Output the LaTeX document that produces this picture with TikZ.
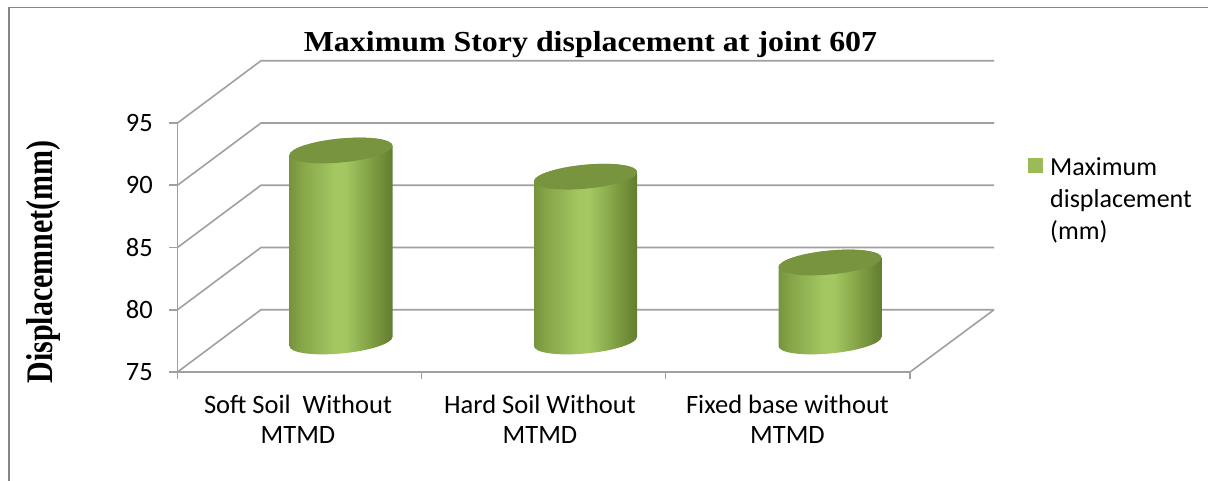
\documentclass[tikz,border=0pt]{standalone}
\usepackage{fontspec}
\setmainfont{Liberation Serif}
\newfontfamily\calfont{Carlito}
\definecolor{gridgray}{RGB}{160,160,160}
\definecolor{framegray}{RGB}{134,134,134}
\definecolor{cyldark}{RGB}{98,125,48}
\definecolor{cylmid}{RGB}{118,148,60}
\definecolor{cyllight}{RGB}{164,199,97}
\definecolor{cyltop}{RGB}{120,148,62}
\definecolor{keygreen}{RGB}{155,187,89}
\pgfdeclarehorizontalshading{cylshade}{100bp}{color(0bp)=(cylmid); color(25bp)=(cylmid); color(30bp)=(cylmid!70!cyllight); color(47bp)=(cyllight); color(52bp)=(cyllight); color(68bp)=(cylmid); color(75bp)=(cyldark); color(100bp)=(cyldark)}
\usetikzlibrary{positioning}

\begin{document}
\begin{tikzpicture}[x=1pt, y=1pt,
  gridln/.style={gridgray, line width=1.6pt},
  lab/.style={font=\calfont\fontsize{26.5}{30}\selectfont, inner sep=0pt, align=center}]
\useasboundingbox (0,0) rectangle (1208,481);
% Frame
\draw[framegray, line width=1.5pt] (1208,473.5) -- (9,473.5) -- (9,0);
% Walls and floor
\foreach \i in {0,...,4} {
  \draw[gridln] (177.5,109+62.25*\i) -- (261,171.25+62.25*\i) -- (994,171.25+62.25*\i);
  \draw[gridln] (169,109+62.25*\i) -- (177.5,109+62.25*\i);
}
\draw[gridln] (177.5,358) -- (177.5,102);
\draw[gridln] (177.5,109) -- (910,109) -- (994,171.25);
\foreach \x in {421.5,665.5,910}
  \draw[gridln] (\x,109) -- (\x,102);
% Cylinders
\foreach \cx/\top in {341/330.5, 585.5/304.3, 830/218.5} {
  \begin{scope}[shift={(\cx,0)}, yslant=0.09]
    \path[shading=cylshade] (-51.5,\top) -- (-51.5,139.5)
      arc[start angle=180, end angle=360, x radius=51.5, y radius=12]
      -- (51.5,\top) arc[start angle=0, end angle=180, x radius=51.5, y radius=12] -- cycle;
    \fill[cyltop] (0,\top) ellipse[x radius=51.5, y radius=12];
  \end{scope}
}
% Tick labels
\foreach \v [count=\i from 0] in {75,80,85,90,95}
  \node[lab, anchor=east] (tick\v) at (153,109+62.25*\i) {\v};
% Categories
\node[lab, anchor=north] (soft) at (298,86) {Soft Soil\ \ Without\\MTMD};
\node[lab, anchor=north] (hard) at (540,86) {Hard Soil Without\\MTMD};
\node[lab, anchor=north] (fixed) at (787.5,86) {Fixed base without\\MTMD};
% Titles
\node[anchor=base, xscale=1.1, font=\bfseries\fontsize{29}{34}\selectfont] (title) at (590.5,429.3) {Maximum Story displacement at joint 607};
\node[rotate=90, yscale=1.25, anchor=base, font=\bfseries\fontsize{30}{36}\selectfont] (ylabel) at (52.5,219) {Displacemnet(mm)};
% Legend
\node[fill=keygreen, minimum size=14.5pt, inner sep=0pt] (key) at (1035.5,315.5) {};
\node[lab, align=left, anchor=north west, font=\calfont\fontsize{26}{32}\selectfont] (keytext) at (1050,324) {Maximum\\displacement\\(mm)};
\end{tikzpicture}
\end{document}
